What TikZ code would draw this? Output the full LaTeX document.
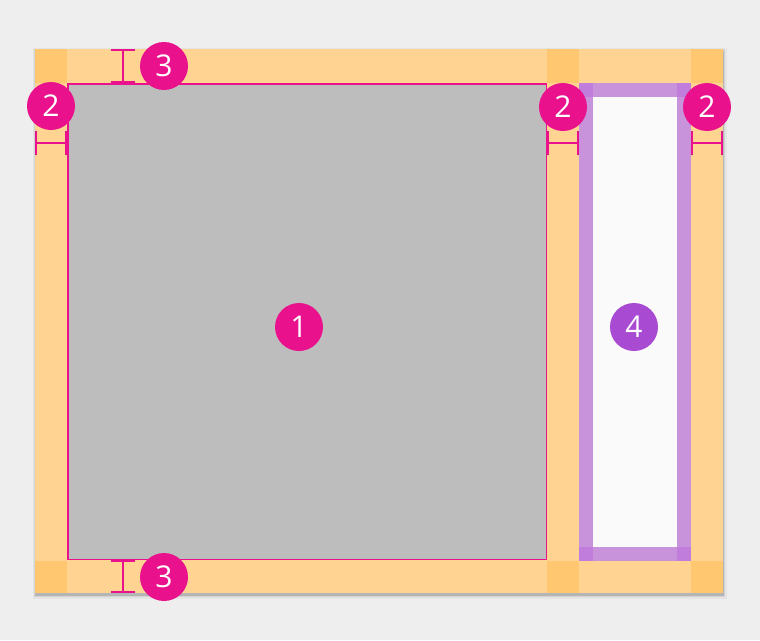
\documentclass[tikz,border=0pt]{standalone}
\usepackage{fontspec}
\setmainfont{Open Sans}
\definecolor{bgc}{HTML}{EEEEEE}
\definecolor{orl}{HTML}{FFD492}
\definecolor{ord}{HTML}{FFC870}
\definecolor{grayc}{HTML}{BDBDBD}
\definecolor{pinkc}{RGB}{234,17,140}
\definecolor{purl}{HTML}{C993DC}
\definecolor{purd}{HTML}{C07DDC}
\definecolor{whitec}{HTML}{FAFAFA}
\definecolor{purc}{RGB}{169,74,210}
\tikzset{
  badge/.style={circle, fill=pinkc, minimum size=48pt, inner sep=0pt, text=white, font=\fontsize{30}{30}\selectfont},
  pbadge/.style={badge, fill=purc},
  dim/.style={draw=pinkc, line width=1.5pt},
}
\begin{document}
\begin{tikzpicture}[x=1pt,y=-1pt]
\useasboundingbox (0,0) rectangle (760,640);
\fill[bgc] (0,0) rectangle (760,640);
% shadow
\fill[black,opacity=0.04] (33,48) rectangle (727,599);
\fill[black,opacity=0.07] (34,49) rectangle (725,597);
\fill[black,opacity=0.14] (35,51) rectangle (724,596);
% card
\fill[orl] (35,49) rectangle (723,593);
\foreach \x in {35,547,691} {
  \fill[ord] (\x,49) rectangle ++(32,34);
  \fill[ord] (\x,561) rectangle ++(32,32);
}
% content region
\fill[grayc] (67,83) rectangle (547,560);
\draw[pinkc, line width=1.5pt] (67.75,83.75) rectangle (546.25,559.25);
% side column
\fill[purl] (579,83) rectangle (691,561);
\fill[whitec] (593,97) rectangle (677,547);
\foreach \x in {579,677} \foreach \y in {83,547} {
  \fill[purd] (\x,\y) rectangle ++(14,14);
}
% dimension markers
\draw[dim] (123,50) -- (123,82);
\draw[dim] (111,50) -- (135,50);
\draw[dim] (111,82) -- (135,82);
\draw[dim] (123,561) -- (123,592);
\draw[dim] (111,561) -- (135,561);
\draw[dim] (111,592) -- (135,592);
\foreach \x in {35,547,691} {
  \draw[dim] (\x+1,143) -- (\x+31,143);
  \draw[dim] (\x+1,131) -- (\x+1,155);
  \draw[dim] (\x+31,131) -- (\x+31,155);
}
% badges
\node[badge] (b1) at (299,327) {1};
\node[badge] (b2a) at (51,106) {2};
\node[badge] (b2b) at (563,107) {2};
\node[badge] (b2c) at (707,107) {2};
\node[badge] (b3a) at (164,66) {3};
\node[badge] (b3b) at (164,577) {3};
\node[pbadge] (b4) at (634,327) {4};
\end{tikzpicture}
\end{document}
